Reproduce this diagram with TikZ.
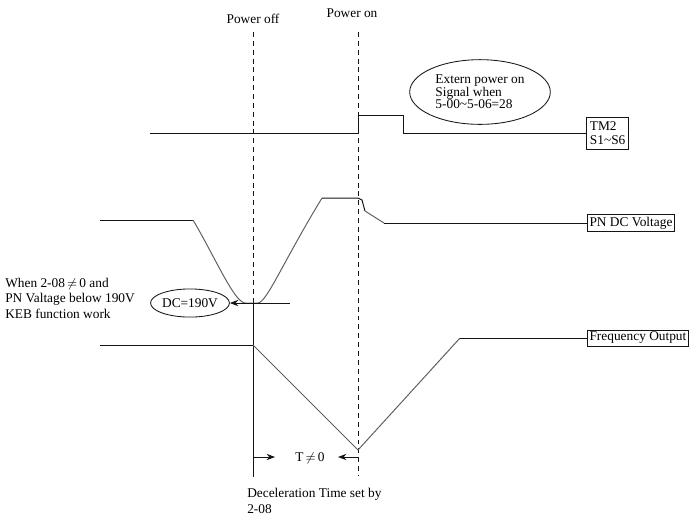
\documentclass[tikz,border=0pt]{standalone}
\usepackage{fontspec}
\setmainfont{Liberation Serif}
\usepackage{tikz}
\usetikzlibrary{shapes.geometric, arrows.meta, positioning, calc}
\definecolor{mydark}{RGB}{20,20,20}
\definecolor{mygray}{RGB}{95,95,95}
\tikzset{
  sigbox/.style={rectangle, draw=mydark, fill=white, align=left,
    inner sep=1.5pt, font=\fontsize{9.5}{10}\selectfont, line width=0.6pt},
  notebubble/.style={ellipse, draw=mydark, align=left, inner sep=0pt,
    font=\fontsize{9.5}{9}\selectfont, line width=0.6pt},
  txt/.style={inner sep=0pt, align=left, font=\fontsize{9.5}{11}\selectfont},
  wave/.style={color=mydark, line width=0.7pt},
  slope/.style={color=mygray, line width=0.7pt},
  marker/.style={color=mydark, line width=0.6pt, dash pattern=on 3.5pt off 2.8pt},
  arrow/.style={-{Stealth[length=6pt,width=4.5pt]}, color=mydark, line width=0.6pt}
}

\begin{document}
\begin{tikzpicture}[x=0.025cm, y=-0.025cm]
  \useasboundingbox (0,0) rectangle (694,516);
  % time markers
  \node[txt] (poff) at (253,19) {Power off};
  \node[txt] (pon) at (352,13) {Power on};
  \coordinate (offtop) at (253,32);
  \coordinate (offmid) at (253,303);
  \coordinate (offbot) at (253,477);
  \coordinate (ontop) at (358,32);
  \coordinate (onbot) at (358,476);
  \draw[marker] (offtop) -- (offmid);
  \draw[wave] (offmid) -- (offbot);
  \draw[marker] (ontop) -- (onbot);
  % signal boxes
  \node[sigbox, anchor=west, inner xsep=2.5pt, inner ysep=3pt] (tm) at (586,133.5)
    {TM2\\S1\textasciitilde S6};
  \node[sigbox, anchor=west] (pn) at (587,223) {PN DC Voltage};
  \node[sigbox, anchor=west] (fq) at (587,338) {Frequency Output};
  % notes
  \node[notebubble, minimum width=100pt, minimum height=46pt] (ext) at (480,92)
    {Extern power on\\Signal when\\5-00\textasciitilde 5-06=28};
  \node[notebubble, minimum width=52pt, minimum height=20pt] (dc) at (190,303) {DC=190V};
  \node[txt, anchor=west] (keb) at (5,298)
    {When 2-08$\,\neq\,$0 and\\PN Valtage below 190V\\KEB function work};
  % TM2 S1~S6
  \draw[wave] (150,133.5) -- (358,133.5) -- (358,115) -- (403,115) -- (403,133.5) -- (tm.west);
  % PN DC voltage
  \draw[wave] (100,220) -- (193,220);
  \draw[slope] (193,220) .. controls (215,257) and (234,302) .. (245,303)
    -- (258,303) .. controls (267,302) and (283,262) .. (322,198);
  \draw[wave] (322,198) -- (358,198) -- (362,200) -- (365,211);
  \draw[slope] (365,211) -- (384,223);
  \draw[wave] (384,223) -- (pn.west);
  \coordinate (dcline) at (290,303);
  \draw[arrow] (dcline) -- (dc.east);
  % frequency output
  \draw[wave] (100,345) -- (253,345);
  \draw[slope] (253,345) -- (358,450) -- (460,338);
  \draw[wave] (460,338) -- (fq.west);
  % deceleration time
  \coordinate (tleft) at (253,457);
  \coordinate (tright) at (358,457);
  \node[txt] (tne) at (310,458) {T$\,\neq\,$0};
  \draw[arrow] (tleft) -- ++(22,0);
  \draw[arrow] (tright) -- ++(-20,0);
  \node[txt, anchor=west] (dec) at (247,501) {Deceleration Time set by\\2-08};
\end{tikzpicture}
\end{document}
